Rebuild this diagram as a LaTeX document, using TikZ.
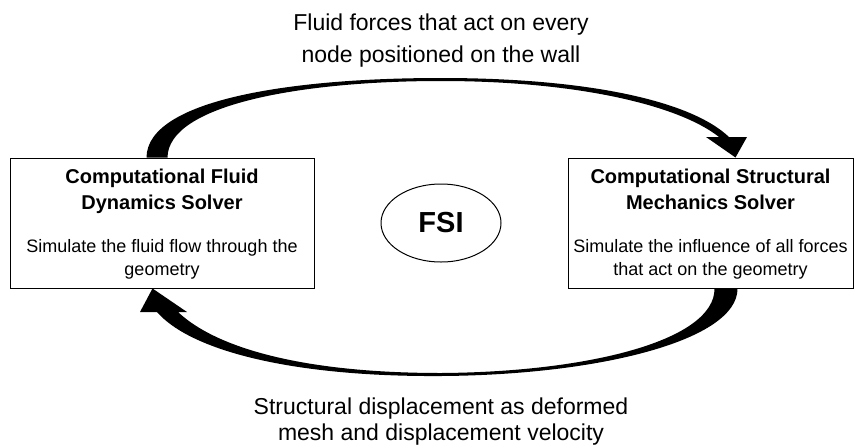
\documentclass[tikz,border=0pt]{standalone}
\usepackage{fontspec}
\setmainfont{Liberation Sans}
\usetikzlibrary{calc,shapes.geometric}
\begin{document}
\begin{tikzpicture}[x=1pt,y=-1pt,
  box/.style={draw=black,line width=1pt,inner sep=0pt,minimum height=130pt},
  ttl/.style={font=\fontsize{20}{24}\selectfont\bfseries,anchor=base,inner sep=0pt},
  body/.style={font=\fontsize{18}{22}\selectfont,anchor=base,inner sep=0pt},
  lbl/.style={font=\fontsize{23}{27}\selectfont,anchor=base,inner sep=0pt},
  flow/.style={fill=black}]
\fill[white] (0,0) rectangle (861,447);
\useasboundingbox (0,0) rectangle (861,447);
% boxes
\node[box,minimum width=304pt] (cfd) at (162,223) {};
\node[box,minimum width=285pt] (csm) at (710.5,223) {};
\node[draw,ellipse,line width=1pt,minimum width=120pt,minimum height=78pt,inner sep=0pt,font=\fontsize{29}{34}\selectfont\bfseries] (fsi) at (441,223) {FSI};
% box texts
\node[ttl] (cfdt1) at (162,183) {Computational Fluid};
\node[ttl] (cfdt2) at (162,209) {Dynamics Solver};
\node[body] (cfdb1) at (162,252) {Simulate the fluid flow through the};
\node[body] (cfdb2) at (162,275) {geometry};
\node[ttl] (csmt1) at (710.5,183) {Computational Structural};
\node[ttl] (csmt2) at (710.5,209) {Mechanics Solver};
\node[body] (csmb1) at (710.5,252) {Simulate the influence of all forces};
\node[body] (csmb2) at (710.5,275) {that act on the geometry};
% labels
\node[lbl] (top1) at (441,30) {Fluid forces that act on every};
\node[lbl] (top2) at (441,62) {node positioned on the wall};
\node[lbl] (bot1) at (441,414) {Structural displacement as deformed};
\node[lbl] (bot2) at (441,440) {mesh and displacement velocity};
% anchor points of the tapered arrows
\coordinate (ta) at ($(cfd.north west)+(137,0)$);
\coordinate (tb) at ($(cfd.north west)+(158,0)$);
\coordinate (ttip) at ($(csm.north west)+(168,0)$);
\coordinate (ba) at ($(csm.south west)+(170,0)$);
\coordinate (bb) at ($(csm.south west)+(147,0)$);
\coordinate (btip) at ($(cfd.south west)+(143,0)$);
% top arrow (CFD -> CSM)
\fill[flow] (ta) .. controls (147,100) and (290,78) .. (441,78)
  .. controls (585,78) and (690,100) .. (729,137)
  -- (747,137) -- (ttip) -- (706,137) -- (719,137)
  .. controls (680,106) and (580,81) .. (441,81)
  .. controls (300,81) and (168,105) .. (tb) -- cycle;
% bottom arrow (CSM -> CFD)
\fill[flow] (ba) .. controls (738,340) and (600,375) .. (441,376)
  .. controls (290,377) and (190,350) .. (157,312)
  -- (140,312) -- (btip) -- (187,312) -- (178,312)
  .. controls (215,347) and (300,373) .. (441,373)
  .. controls (590,372) and (715,340) .. (bb) -- cycle;
\end{tikzpicture}
\end{document}
